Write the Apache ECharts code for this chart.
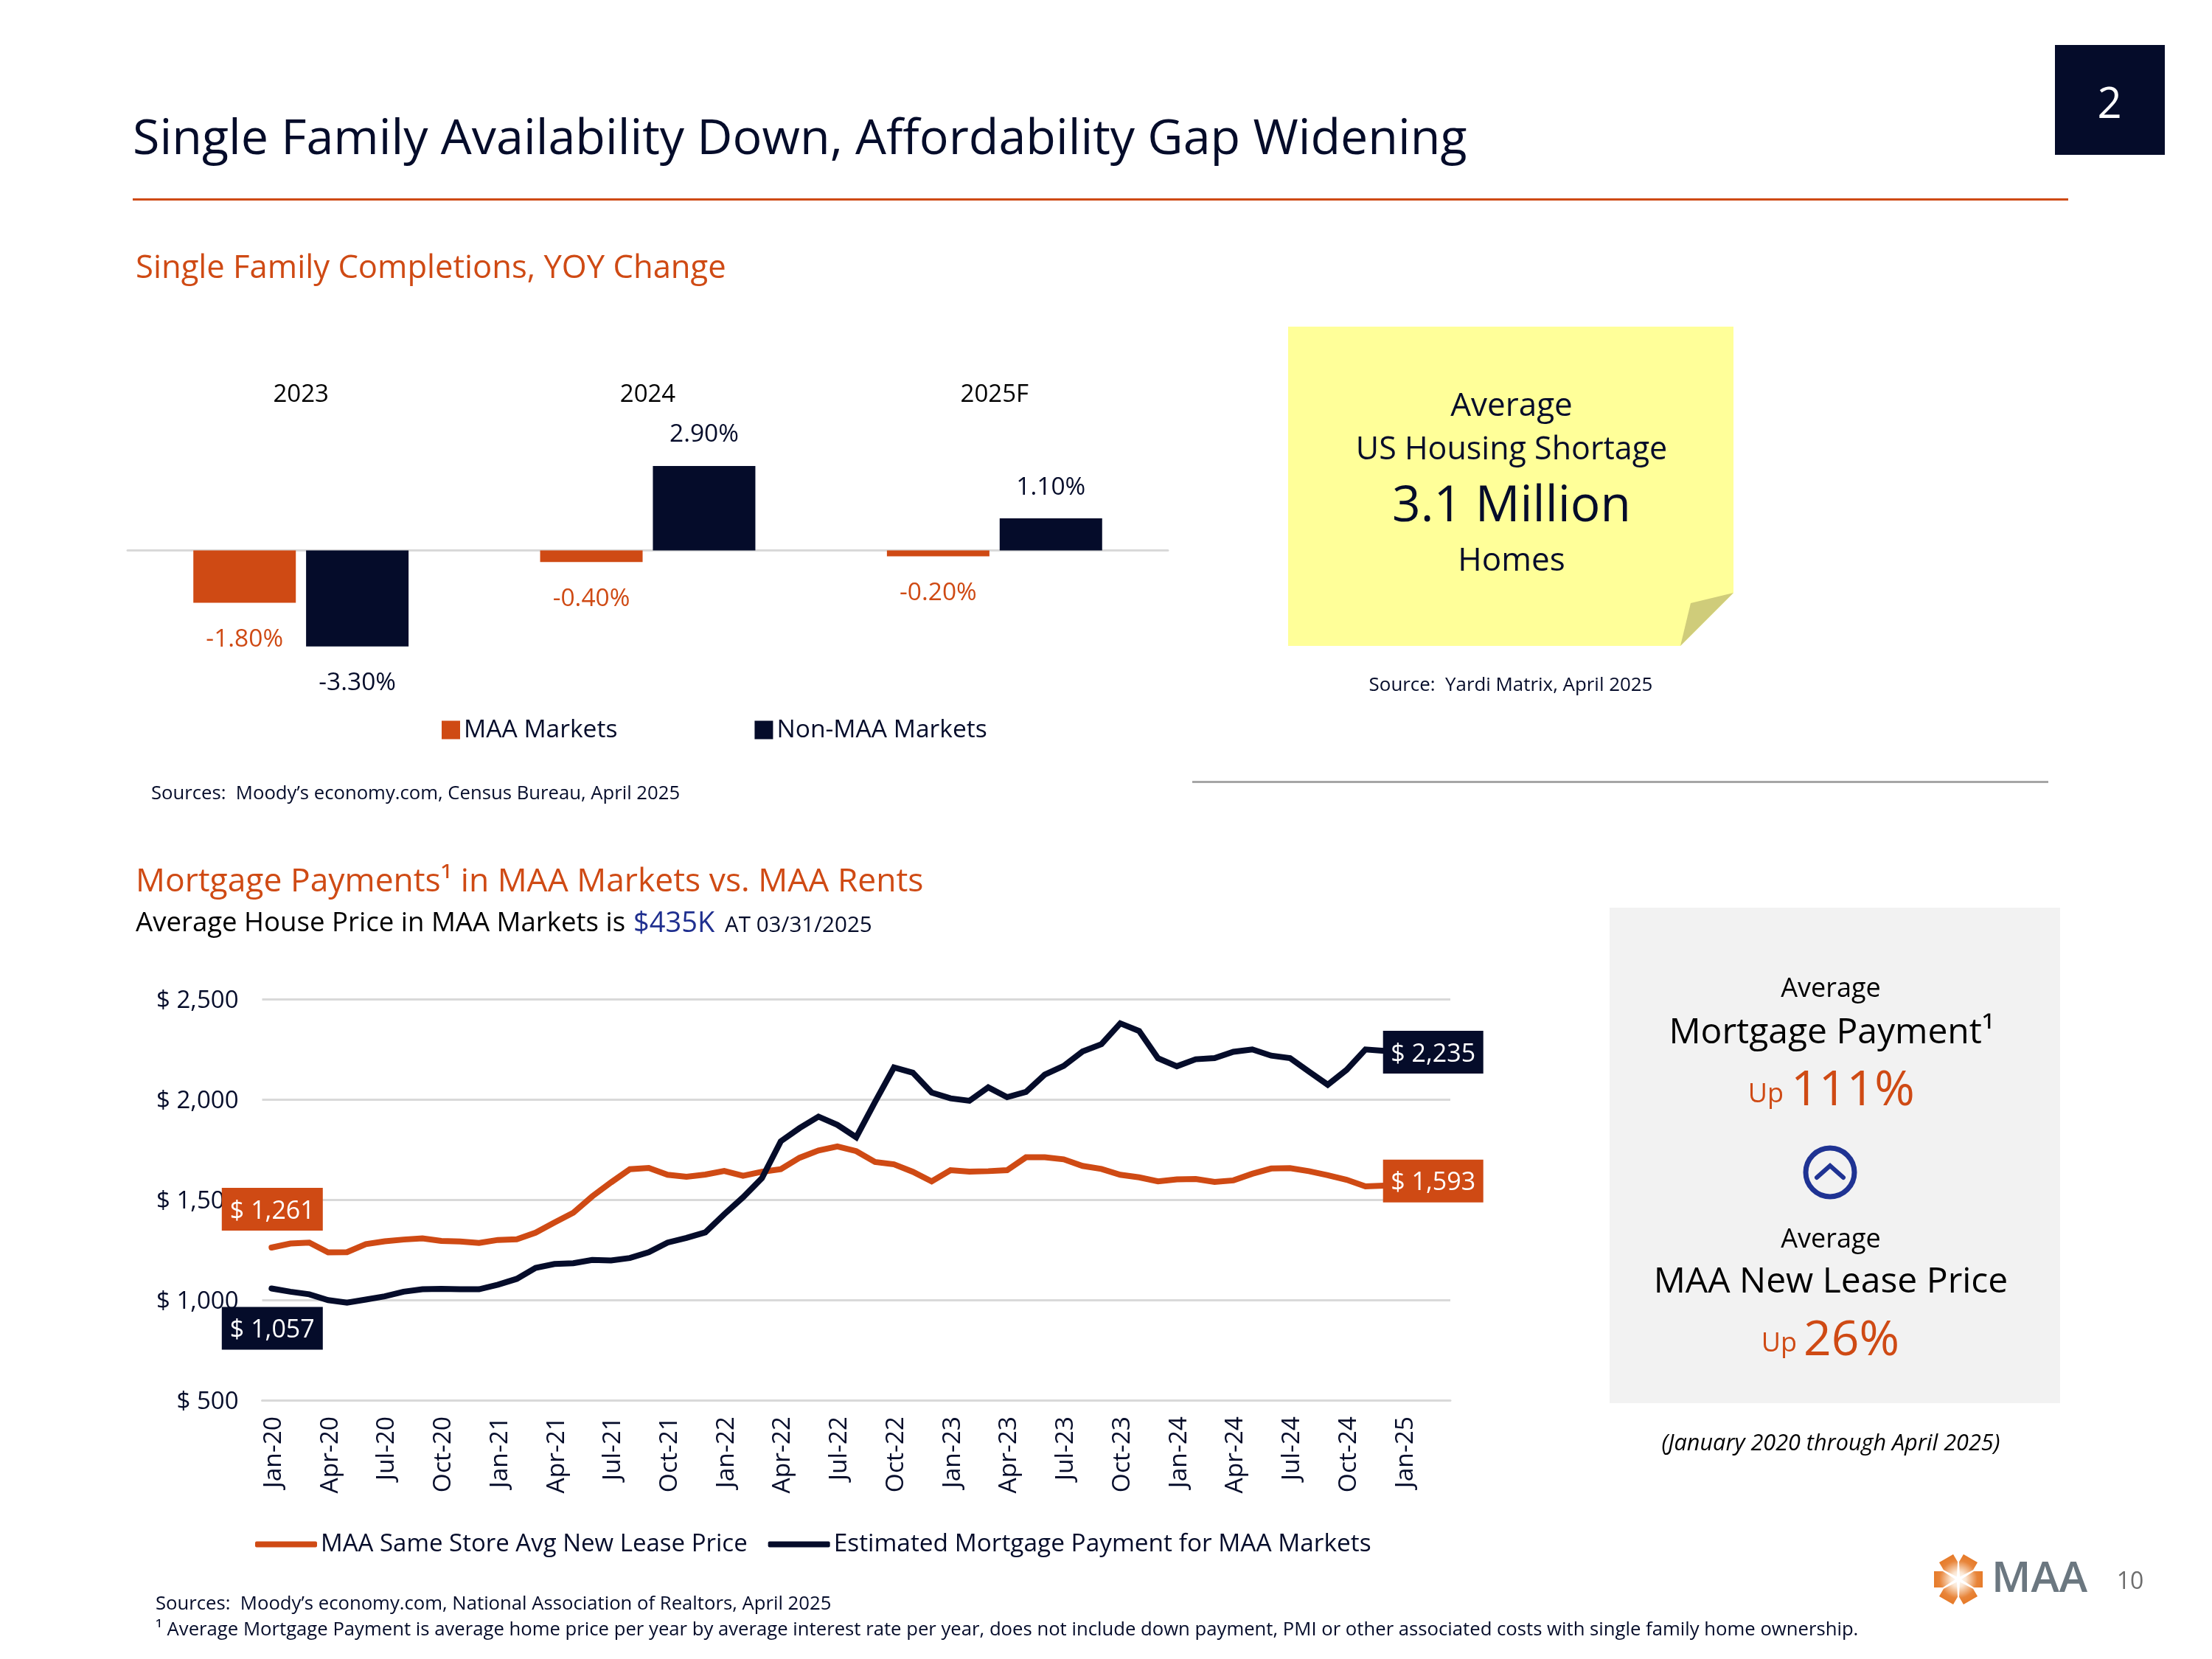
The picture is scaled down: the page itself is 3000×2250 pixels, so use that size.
<!DOCTYPE html>
<html>
<head>
<meta charset="utf-8">
<title>Single Family Availability</title>
<style>
  html, body { margin: 0; padding: 0; background: #fff; }
  #chart { width: 3000px; height: 2250px; }
</style>
<script src="https://cdn.jsdelivr.net/npm/echarts@6/dist/echarts.min.js"></script>
</head>
<body>
<div id="chart"></div>
<script>
// top chart data
const years = ['2023', '2024', '2025F']
const maaCompletions = [-1.8, -0.4, -0.2]
const nonMaaCompletions = [-3.3, 2.9, 1.1]

// bottom chart data, monthly from Jan-20
const months = [
  'Jan-20','Feb-20','Mar-20','Apr-20','May-20','Jun-20','Jul-20','Aug-20','Sep-20','Oct-20','Nov-20','Dec-20',
  'Jan-21','Feb-21','Mar-21','Apr-21','May-21','Jun-21','Jul-21','Aug-21','Sep-21','Oct-21','Nov-21','Dec-21',
  'Jan-22','Feb-22','Mar-22','Apr-22','May-22','Jun-22','Jul-22','Aug-22','Sep-22','Oct-22','Nov-22','Dec-22',
  'Jan-23','Feb-23','Mar-23','Apr-23','May-23','Jun-23','Jul-23','Aug-23','Sep-23','Oct-23','Nov-23','Dec-23',
  'Jan-24','Feb-24','Mar-24','Apr-24','May-24','Jun-24','Jul-24','Aug-24','Sep-24','Oct-24','Nov-24','Dec-24',
  'Jan-25','Feb-25','Mar-25'
]
const leasePrice = [
  1261,1281,1286,1237,1238,1278,1292,1301,1307,1294,1291,1284,
  1299,1302,1335,1386,1435,1516,1586,1652,1658,1624,1614,1625,
  1643,1619,1639,1652,1709,1745,1765,1742,1688,1676,1639,1591,
  1647,1640,1642,1647,1711,1711,1701,1668,1653,1624,1611,1591,
  1601,1603,1588,1596,1629,1655,1657,1642,1622,1599,1566,1570,
  1576,1585,1593
]
const mortgagePayment = [
  1057,1041,1028,999,986,1002,1018,1041,1053,1055,1053,1053,
  1076,1105,1160,1179,1183,1199,1197,1209,1238,1286,1309,1337,
  1427,1512,1607,1791,1857,1914,1873,1811,1988,2159,2133,2034,
  2005,1993,2060,2011,2037,2124,2167,2239,2275,2379,2341,2205,
  2165,2200,2206,2237,2249,2218,2206,2139,2073,2147,2249,2242,
  2240,2238,2235
]

const NAVY = '#050c2a'
const ORANGE = '#cf4a14'
const FONT = '"Open Sans", sans-serif'

// plain text on the slide
function txt(text, x, y, size, color, opts) {
  return {
    type: 'text',
    x: x,
    y: y + 4,
    z: 10,
    style: Object.assign({
      text: text,
      fontFamily: FONT,
      fontSize: size,
      fill: color || NAVY,
      align: 'left',
      verticalAlign: 'middle'
    }, opts || {})
  }
}
const center = { align: 'center' }

// logo petals, drawn around its middle
function logoPetals(cx, cy) {
  const out = []
  for (let i = 0; i < 6; i++) {
    const a = (i * 60) * Math.PI / 180
    const pt = (r, s) => [cx + r * Math.cos(a) - s * Math.sin(a), cy + r * Math.sin(a) + s * Math.cos(a)]
    out.push({
      type: 'polygon',
      z: 10,
      shape: { points: [pt(4, 0), pt(21, -11), pt(33, -11), pt(33, 11), pt(21, 11)] },
      style: {
        fill: { type: 'radial', x: cx, y: cy, r: 34, global: true,
          colorStops: [{ offset: 0, color: '#ffffff' }, { offset: 0.3, color: '#fbe6d2' }, { offset: 0.75, color: '#e8853a' }, { offset: 1, color: '#e67a28' }] }
      }
    })
  }
  return out
}

// value with a boxed label on the first and last point of a line
function endBox(v, i, n, color, firstOffset, lastOffset) {
  if (i !== 0 && i !== n - 1) return v
  return {
    value: v,
    label: {
      show: true,
      position: 'inside',
      offset: i === 0 ? firstOffset : lastOffset,
      formatter: '{t|$ ' + v.toLocaleString('en-US') + '}',
      backgroundColor: color,
      width: i === 0 ? 137 : 136,
      height: 58,
      align: 'center',
      verticalAlign: 'middle',
      rich: {
        t: { color: '#fff', fontSize: 34, fontFamily: FONT, padding: [15, 0, 0, 0] }
      }
    }
  }
}

const myChart = echarts.init(document.getElementById('chart'), null, { renderer: 'canvas' })

const option = {
  animation: false,
  backgroundColor: '#ffffff',
  textStyle: { fontFamily: FONT },
  grid: [
    { left: 173, width: 1411, top: 549, height: 355.5 },
    { left: 355.5, right: 1033, top: 1355, bottom: 351 }
  ],
  legend: [
    {
      left: 594, top: 968, icon: 'rect', itemWidth: 25, itemHeight: 25, itemGap: 186,
      data: ['MAA Markets', 'Non-MAA Markets'],
      textStyle: { color: NAVY, fontSize: 33.6, fontFamily: FONT }
    },
    {
      left: 341, top: 2073, icon: 'roundRect', itemWidth: 84, itemHeight: 8, itemGap: 28,
      data: [
        { name: 'MAA Same Store Avg New Lease Price', textStyle: { fontSize: 33 } },
        { name: 'Estimated Mortgage Payment for MAA Markets', textStyle: { fontSize: 33.4 } }
      ],
      textStyle: { color: NAVY, fontSize: 33, fontFamily: FONT }
    }
  ],
  xAxis: [
    {
      type: 'category', gridIndex: 0, data: years,
      axisLine: { onZero: true, lineStyle: { color: '#d9d9d9', width: 3 } },
      axisTick: { show: false },
      axisLabel: { show: false }
    },
    {
      type: 'category', gridIndex: 0, position: 'top', data: years,
      axisLine: { show: false },
      axisTick: { show: false },
      axisLabel: { color: '#000', fontSize: 33, margin: -3, fontFamily: FONT }
    },
    {
      type: 'category', gridIndex: 1, data: months, boundaryGap: true,
      axisLine: { lineStyle: { color: '#d9d9d9', width: 3 } },
      axisTick: { interval: 2, length: 9, lineStyle: { color: '#d9d9d9', width: 3 } },
      axisLabel: {
        interval: 2, rotate: 90, margin: 22,
        formatter: v => '{t|' + v + '}',
        rich: { t: { color: NAVY, fontSize: 33.5, fontFamily: FONT, padding: [6, 0, 0, 0] } }
      }
    }
  ],
  yAxis: [
    { type: 'value', gridIndex: 0, min: -4, max: 5, show: false },
    {
      type: 'value', gridIndex: 1, min: 500, max: 2500, interval: 500,
      axisLine: { show: false },
      axisTick: { show: false },
      splitLine: { lineStyle: { color: '#d9d9d9', width: 3 } },
      axisLabel: {
        margin: 32,
        formatter: v => '{t|$ ' + v.toLocaleString('en-US') + '}',
        rich: { t: { color: NAVY, fontSize: 33, fontFamily: FONT, padding: [6, 0, 0, 0] } }
      }
    }
  ],
  series: [
    {
      name: 'MAA Markets', type: 'bar', xAxisIndex: 0, yAxisIndex: 0,
      barWidth: 139, barGap: '10%',
      data: maaCompletions,
      itemStyle: { color: ORANGE },
      label: {
        show: true, position: 'bottom', distance: 29, offset: [0, 4], color: ORANGE, fontSize: 33.5, fontFamily: FONT,
        formatter: p => p.value.toFixed(2) + '%'
      }
    },
    {
      name: 'Non-MAA Markets', type: 'bar', xAxisIndex: 0, yAxisIndex: 0,
      barWidth: 139,
      data: nonMaaCompletions,
      itemStyle: { color: NAVY },
      label: {
        show: true, position: 'outside', distance: 29, offset: [0, 4], color: NAVY, fontSize: 33.5, fontFamily: FONT,
        formatter: p => p.value.toFixed(2) + '%'
      }
    },
    {
      name: 'MAA Same Store Avg New Lease Price', type: 'line', xAxisIndex: 2, yAxisIndex: 1,
      symbol: 'circle', symbolSize: 0,
      lineStyle: { color: ORANGE, width: 8, cap: 'round', join: 'miter' },
      itemStyle: { color: ORANGE },
      data: leasePrice.map((v, i) => endBox(v, i, leasePrice.length, ORANGE, [1, -52], [-10.5, 0]))
    },
    {
      name: 'Estimated Mortgage Payment for MAA Markets', type: 'line', xAxisIndex: 2, yAxisIndex: 1,
      symbol: 'circle', symbolSize: 0,
      lineStyle: { color: NAVY, width: 8, cap: 'round', join: 'miter' },
      itemStyle: { color: NAVY },
      data: mortgagePayment.map((v, i) => endBox(v, i, mortgagePayment.length, NAVY, [1, 54], [-10.5, 0]))
    }
  ],
  graphic: [
    // slide number box
    { type: 'rect', z: 5, shape: { x: 2787, y: 61, width: 149, height: 149 }, style: { fill: NAVY } },
    txt('2', 2861, 139, 58, '#ffffff', center),
    txt('Single Family Availability Down, Affordability Gap Widening', 180, 186, 66.4),
    { type: 'rect', z: 5, shape: { x: 180, y: 269, width: 2625, height: 3 }, style: { fill: ORANGE } },
    txt('Single Family Completions, YOY Change', 184, 361, 43.6, ORANGE),
    txt('Sources:  Moody\u2019s economy.com, Census Bureau, April 2025', 205, 1073, 25.7),
    { type: 'rect', z: 5, shape: { x: 1617, y: 1059, width: 1161, height: 3 }, style: { fill: '#a6a6a6' } },

    // sticky note
    {
      type: 'polygon', z: 5,
      shape: { points: [[1747, 443], [2351, 443], [2351, 804], [2279, 876], [1747, 876]] },
      style: { fill: '#ffff99' }
    },
    {
      type: 'polygon', z: 6,
      shape: { points: [[2279, 876], [2293, 818], [2351, 804]] },
      style: { fill: '#cfcc7a' }
    },
    txt('Average', 2050, 547, 44, NAVY, center),
    txt('US Housing Shortage', 2050, 607, 43, NAVY, center),
    txt('3.1 Million', 2050, 684, 67.6, NAVY, center),
    txt('Homes', 2050, 757, 44, NAVY, center),
    txt('Source:  Yardi Matrix, April 2025', 2049, 926, 25.9, NAVY, center),

    txt('Mortgage Payments\u00b9 in MAA Markets vs. MAA Rents', 184, 1192, 44.4, ORANGE),
    txt('Average House Price in MAA Markets is', 184, 1249, 36.6, '#000'),
    txt('$435K', 859, 1249, 38, '#1f2f8f'),
    txt('AT 03/31/2025', 983, 1252, 29.6, NAVY),

    // right hand box
    { type: 'rect', z: 5, shape: { x: 2183, y: 1231, width: 611, height: 672 }, style: { fill: '#f2f2f2' } },
    txt('Average', 2483, 1338, 36, '#000', center),
    txt('Mortgage Payment\u00b9', 2484, 1397, 48, '#000', center),
    txt('Up', 2419, 1481, 36, ORANGE, { align: 'right' }),
    txt('111%', 2429, 1476, 66, ORANGE),
    { type: 'ellipse', z: 10, shape: { cx: 2482, cy: 1590, rx: 33, ry: 33 }, style: { fill: 'none', stroke: '#1f3393', lineWidth: 7 } },
    { type: 'polyline', z: 10, shape: { points: [[2464, 1597], [2482, 1581], [2500, 1597]] }, style: { fill: 'none', stroke: '#1f3393', lineWidth: 6, lineCap: 'round' } },
    txt('Average', 2483, 1678, 36, '#000', center),
    txt('MAA New Lease Price', 2483, 1735, 48, '#000', center),
    txt('Up', 2437, 1819, 36, ORANGE, { align: 'right' }),
    txt('26%', 2446, 1815, 66, ORANGE),
    txt('(January 2020 through April 2025)', 2483, 1954, 30.6, '#000', { align: 'center', fontStyle: 'italic' }),

    // footer
    txt('Sources:  Moody\u2019s economy.com, National Association of Realtors, April 2025', 211, 2172, 25.7),
    txt('\u00b9 Average Mortgage Payment is average home price per year by average interest rate per year, does not include down payment, PMI or other associated costs with single family home ownership.', 211, 2207, 25.7),
    ...logoPetals(2656, 2142),
    txt('MAA', 2701, 2138, 58, '#6b7780', { fontWeight: 600 }),
    txt('10', 2889, 2142, 32, '#6d6d6d', center)
  ]
}

myChart.setOption(option)
</script>
</body>
</html>
